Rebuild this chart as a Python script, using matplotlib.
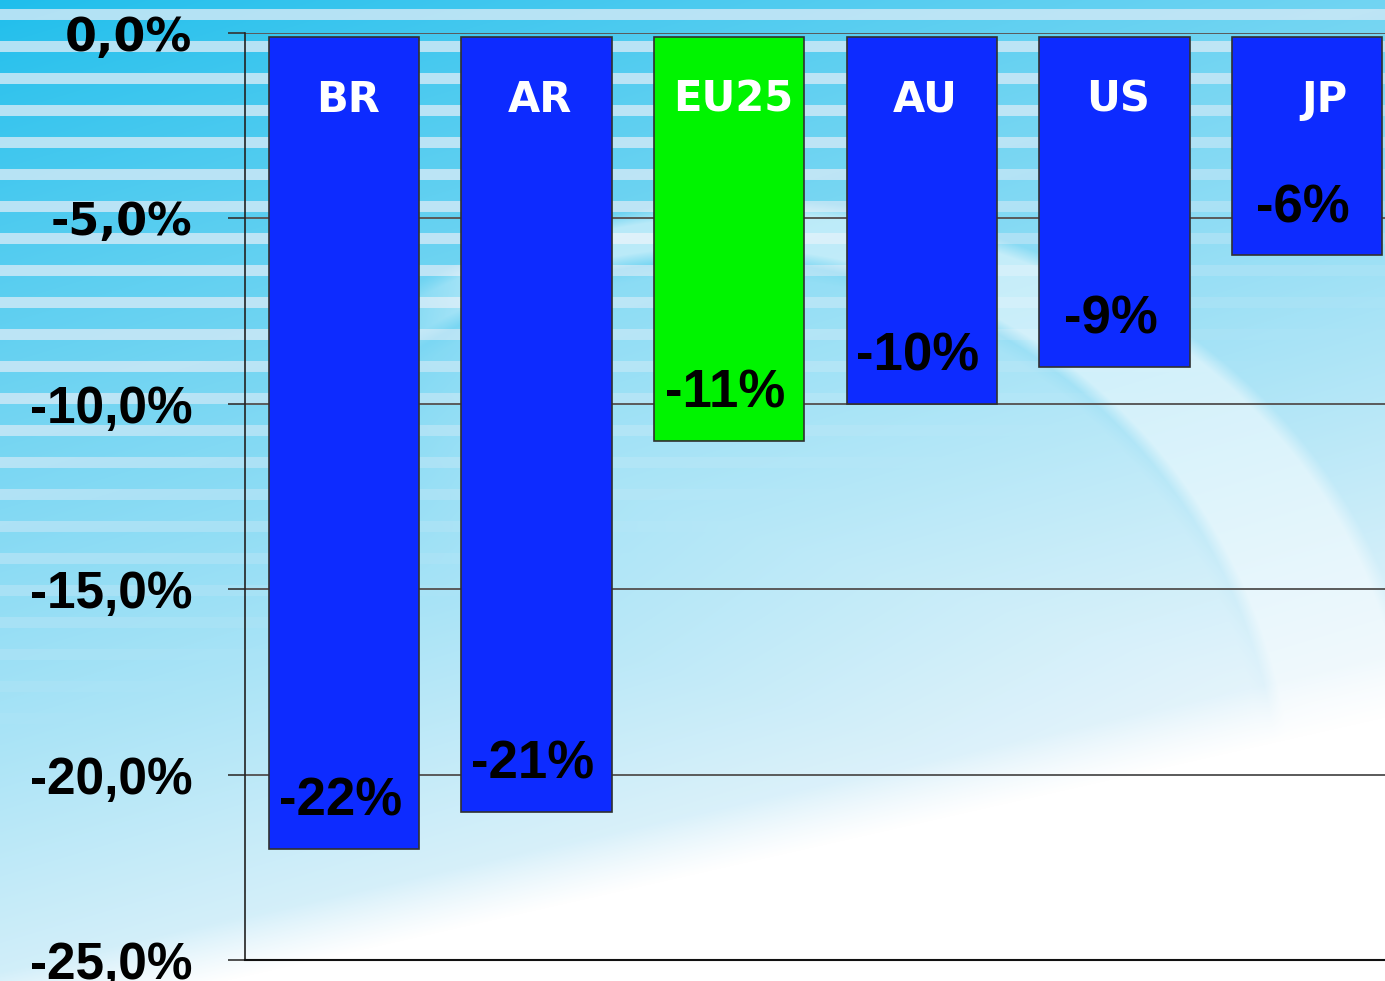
import numpy as np
import matplotlib
matplotlib.use('Agg')
import matplotlib.pyplot as plt

# data
countries = ['BR', 'AR', 'EU25', 'AU', 'US', 'JP']
changes = [-22, -21, -11, -10, -9, -6]
y_ticks = [0, -5, -10, -15, -20, -25]
y_tick_labels = ['0,0%', '-5,0%', '-10,0%', '-15,0%', '-20,0%', '-25,0%']

BLUE = '#0D2BFF'
GREEN = '#00F400'
bar_colors = [GREEN if c == 'EU25' else BLUE for c in countries]

W, H = 1385, 981

############################################
######### background (slide template) ######
############################################
yy, xx = np.mgrid[0:H, 0:W].astype(float)

top = np.array([0x1E, 0xBE, 0xEC]) / 255.0
low = np.array([0xE6, 0xF4, 0xFB]) / 255.0
white = np.array([1.0, 1.0, 1.0])

# gradient blue -> pale
t = np.clip((yy + 0.3 * xx) / 1100.0, 0, 1) ** 0.9
img = top[None, None, :] * (1 - t[..., None]) + low[None, None, :] * t[..., None]

# white wedge bottom right
edge = 956 - (xx - 245) * 0.227
w = np.clip((yy - edge + 40) / 60.0, 0, 1)
img = img * (1 - w[..., None]) + white * w[..., None]

# horizontal stripes, fading out downwards
phase = (yy - 8) % 32
stripe = ((phase > 0) & (phase < 12)).astype(float)
fade = np.clip(1 - (yy + 0.3 * xx - 420) / 330.0, 0, 1)
stripe_col = np.array([0xCC, 0xE8, 0xF6]) / 255.0
s = stripe * (0.85 * fade)
img = img * (1 - s[..., None]) + stripe_col * s[..., None]

# white crescent of the dome, only seen in the upper right
outer = ((xx - 760) / 660.0) ** 2 + ((yy - 760) / 560.0) ** 2
inner = ((xx - 720) / 560.0) ** 2 + ((yy - 820) / 560.0) ** 2
cres = np.clip((1.0 - outer) / 0.05, 0, 1) * np.clip((inner - 1.0) / 0.05, 0, 1)
inside = np.clip((1.0 - inner) / 0.05, 0, 1)
xfade = np.clip((xx - 380) / 120.0, 0, 1)
vfade = np.clip(1 - (yy - 430 - 0.3 * (xx - 400)) / 160.0, 0, 1)
lift = (0.5 * cres + 0.12 * inside) * xfade * vfade
img = img * (1 - lift[..., None]) + white * lift[..., None]
img = np.clip(img, 0, 1)

fig = plt.figure(figsize=(W / 100, H / 100), dpi=100)
bg = fig.add_axes([0, 0, 1, 1])
bg.imshow(img, aspect='auto', interpolation='bilinear')
bg.axis('off')

ax = fig.add_axes([245 / W, 1 - 960 / H, 1 - 245 / W, (960 - 33) / H])
ax.patch.set_alpha(0)

x = np.arange(len(countries))
ax.bar(x, [v + 0.1 for v in changes], bottom=-0.1, width=0.78,
       color=bar_colors, edgecolor='#303030', linewidth=1.2, zorder=3)

ax.set_xlim(-0.514, 5.405)
ax.set_ylim(-25, 0)
ax.set_yticks(y_ticks)
ax.set_yticklabels(y_tick_labels)
ax.set_xticks([])

ax.yaxis.grid(True, color='#5a5a5a', linewidth=1.4, zorder=1)
ax.set_axisbelow(True)
for sp in ['top', 'right']:
    ax.spines[sp].set_visible(False)
ax.spines['left'].set_color('#222222')
ax.spines['bottom'].set_color('#111111')
ax.spines['left'].set_linewidth(1.2)
ax.spines['bottom'].set_linewidth(1.5)
ax.tick_params(axis='y', length=12, width=1.2, color='#333333', pad=26)

for i, lab in enumerate(ax.get_yticklabels()):
    if i < 2:
        lab.set_fontfamily('DejaVu Sans')
        lab.set_fontsize(33 if i == 0 else 32)
    else:
        lab.set_fontfamily('Liberation Sans')
        lab.set_fontsize(37)
    lab.set_fontweight('bold')
    lab.set_color('black')

# category labels inside top of bars
for i, c in enumerate(countries):
    dx = 0.09 if c == 'JP' else 0.02
    ax.text(i + dx, -1.8, c, ha='center', va='center', color='white',
            fontsize=30, fontweight='bold', family='DejaVu Sans', zorder=4)

# value labels near the bar ends
for i, v in enumerate(changes):
    ax.annotate(f'{v}%', (i - 0.02, v), xytext=(0, 34), textcoords='offset points',
                ha='center', va='center', fontsize=38, fontweight='bold',
                family='Liberation Sans', color='black', zorder=4)

fig.savefig('out.png', dpi=100)
